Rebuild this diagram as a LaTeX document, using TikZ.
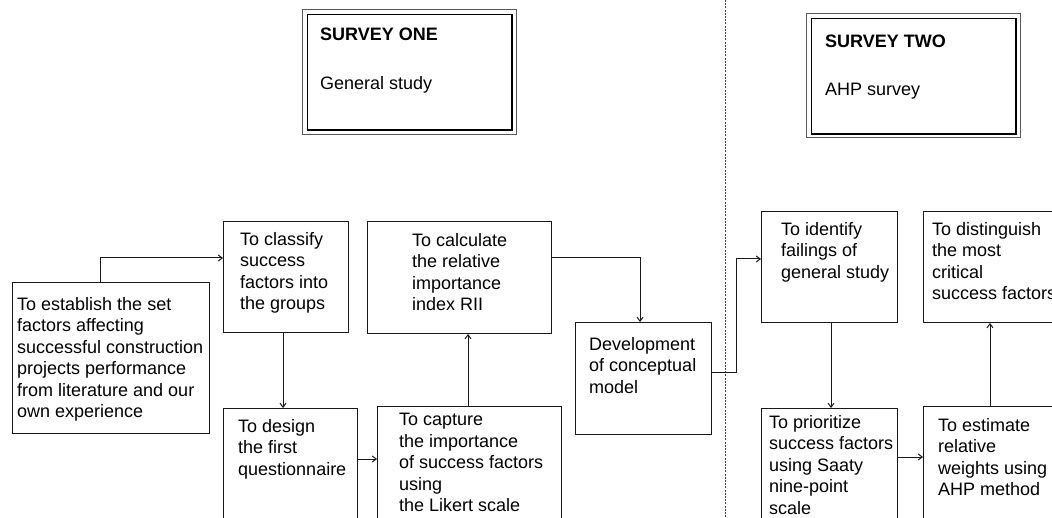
\documentclass[tikz,border=0pt]{standalone}
\usepackage{fontspec}
\setmainfont{Liberation Sans}
\usetikzlibrary{arrows.meta}
\tikzset{
  box/.style={draw=black!90, line width=1pt, anchor=north west, inner sep=0pt, fill=none},
  txt/.style={anchor=north west, inner sep=0pt, align=left, font=\fontsize{18}{21.5}\selectfont},
  ttl/.style={anchor=north west, inner sep=0pt, font=\fontsize{18}{21.5}\selectfont\bfseries},
  arr/.style={draw=black!90, line width=1pt, -{Straight Barb[length=4pt,width=6pt]}},
  outerframe/.style={draw=black!65, line width=1pt, anchor=north west, inner sep=0pt},
  innerframe/.style={draw=black, line width=1.2pt, anchor=north west, inner sep=0pt},
  divider/.style={draw=black!75, line width=0.8pt, dash pattern=on 2pt off 1.2pt}
}
\begin{document}
\begin{tikzpicture}[x=1pt,y=-1pt]
\useasboundingbox (0,0) rectangle (1052,518);
\clip (0,0) rectangle (1052,518);
\fill[white] (0,0) rectangle (1052,518);

% survey frames
\node[outerframe, minimum width=214pt, minimum height=125pt] (s1o) at (302,9) {};
\node[innerframe, minimum width=204pt, minimum height=115pt] (s1i) at (307,14) {};
\draw[line width=1.2pt] (s1i.north east) -- (s1i.south east) -- (s1i.south west);
\node[ttl] (s1t) at (320,28) {SURVEY ONE};
\node[txt] (s1s) at (320,76) {General study};

\node[outerframe, minimum width=214pt, minimum height=124pt] (s2o) at (806,13) {};
\node[innerframe, minimum width=204pt, minimum height=115pt] (s2i) at (811,18) {};
\draw[line width=1.2pt] (s2i.north east) -- (s2i.south east) -- (s2i.south west);
\node[ttl] (s2t) at (825,35) {SURVEY TWO};
\node[txt] (s2s) at (825,83) {AHP survey};

% divider
\coordinate (dtop) at (725,0);
\coordinate (dbot) at (725,518);
\draw[divider] (dtop) -- (dbot);

% boxes
\node[box, minimum width=197pt, minimum height=151pt] (A) at (12,282) {};
\node[box, minimum width=125pt, minimum height=111pt] (B) at (223,221) {};
\node[box, minimum width=134pt, minimum height=140pt] (C) at (223,408) {};
\node[box, minimum width=184pt, minimum height=140pt] (D) at (377,406) {};
\node[box, minimum width=184pt, minimum height=112pt] (E) at (367,221) {};
\node[box, minimum width=136pt, minimum height=112pt] (F) at (575,322) {};
\node[box, minimum width=136pt, minimum height=111pt] (G) at (761,211) {};
\node[box, minimum width=160pt, minimum height=111pt] (H) at (923,211) {};
\node[box, minimum width=136pt, minimum height=140pt] (I) at (761,408) {};
\node[box, minimum width=160pt, minimum height=140pt] (J) at (923,406) {};

% texts
\node[txt] (tA) at (17,297) {To establish the set\\factors affecting\\successful construction\\projects performance\\from literature and our\\own experience};
\node[txt] (tB) at (240,232) {To classify\\success\\factors into\\the groups};
\node[txt] (tC) at (238,419) {To design\\the first\\questionnaire};
\node[txt] (tD) at (399,413) {To capture\\the importance\\of success factors\\using\\the Likert scale};
\node[txt] (tE) at (412,233) {To calculate\\the relative\\importance\\index RII};
\node[txt] (tF) at (589,337) {Development\\of conceptual\\model};
\node[txt] (tG) at (781,222) {To identify\\failings of\\general study};
\node[txt] (tH) at (932,222) {To distinguish\\the most\\critical\\success factors};
\node[txt] (tI) at (769,415) {To prioritize\\success factors\\using Saaty\\nine-point\\scale};
\node[txt] (tJ) at (938,418) {To estimate\\relative\\weights using\\AHP method};

% connectors
\draw[arr] ([xshift=88pt]A.north west) |- ([yshift=-37pt]B.north west);
\draw[arr] ([xshift=60pt]B.south west) -- ([xshift=60pt]C.north west);
\draw[arr] ([yshift=-51pt]C.north east) -- ([yshift=-53pt]D.north west);
\draw[arr] ([xshift=91pt]D.north west) -- ([xshift=101pt]E.south west);
\draw[arr] ([yshift=-37pt]E.north east) -| ([xshift=65pt]F.north west);
\draw[arr] ([yshift=-51pt]F.north east) -- ++(24,0) |- ([yshift=-48pt]G.north west);
\draw[arr] ([xshift=70pt]G.south west) -- ([xshift=70pt]I.north west);
\draw[arr] ([yshift=-49pt]I.north east) -- ([yshift=-51pt]J.north west);
\draw[arr] ([xshift=67pt]J.north west) -- ([xshift=67pt]H.south west);
\end{tikzpicture}
\end{document}
